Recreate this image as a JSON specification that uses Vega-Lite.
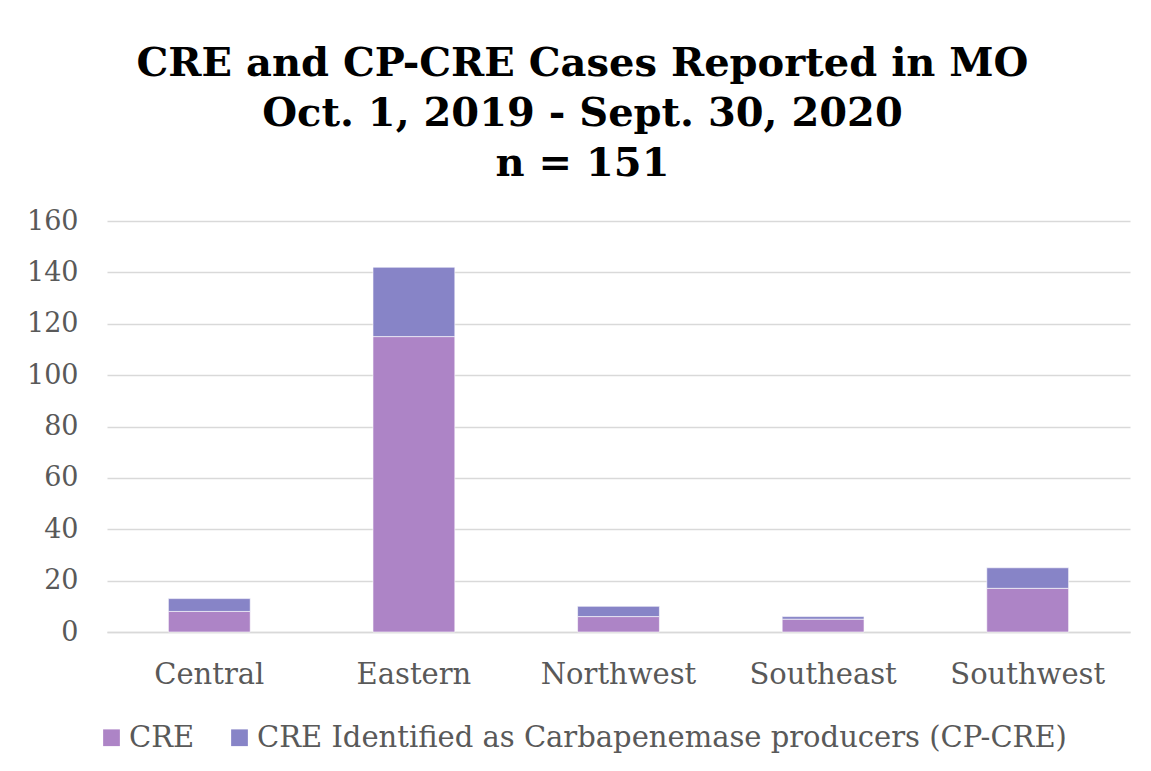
{
  "$schema": "https://vega.github.io/schema/vega-lite/v6.json",
  "width": 1023,
  "height": 411,
  "autosize": {"type": "none"},
  "padding": {"left": 107, "top": 221, "right": 21, "bottom": 139},
  "background": "white",
  "title": {
    "text": ["CRE and CP-CRE Cases Reported in MO", "Oct. 1, 2019 - Sept. 30, 2020", "n = 151"],
    "font": "DejaVu Serif",
    "fontWeight": "bold",
    "fontSize": 40,
    "lineHeight": 50,
    "color": "#000000",
    "anchor": "middle",
    "dx": -36,
    "offset": 23
  },
  "data": {
    "values": [
      {"region": "Central", "type": "CRE", "cases": 8},
      {"region": "Central", "type": "CRE Identified as Carbapenemase producers (CP-CRE)", "cases": 5},
      {"region": "Eastern", "type": "CRE", "cases": 115},
      {"region": "Eastern", "type": "CRE Identified as Carbapenemase producers (CP-CRE)", "cases": 27},
      {"region": "Northwest", "type": "CRE", "cases": 6},
      {"region": "Northwest", "type": "CRE Identified as Carbapenemase producers (CP-CRE)", "cases": 4},
      {"region": "Southeast", "type": "CRE", "cases": 5},
      {"region": "Southeast", "type": "CRE Identified as Carbapenemase producers (CP-CRE)", "cases": 1},
      {"region": "Southwest", "type": "CRE", "cases": 17},
      {"region": "Southwest", "type": "CRE Identified as Carbapenemase producers (CP-CRE)", "cases": 8}
    ]
  },
  "mark": {"type": "bar", "stroke": "#ffffff", "strokeOpacity": 0.6, "strokeWidth": 1},
  "encoding": {
    "x": {
      "field": "region",
      "type": "nominal",
      "sort": null,
      "scale": {"paddingInner": 0.6, "paddingOuter": 0.3},
      "axis": {
        "title": null,
        "labelAngle": 0,
        "ticks": false,
        "domain": true,
        "domainColor": "#d9d9d9",
        "domainWidth": 1.5,
        "labelPadding": 28,
        "labelFont": "DejaVu Serif",
        "labelFontSize": 29,
        "labelColor": "#595959"
      }
    },
    "y": {
      "field": "cases",
      "type": "quantitative",
      "stack": "zero",
      "scale": {"domain": [0, 160], "nice": false},
      "axis": {
        "title": null,
        "values": [0, 20, 40, 60, 80, 100, 120, 140, 160],
        "ticks": false,
        "domain": false,
        "grid": true,
        "gridColor": "#d9d9d9",
        "gridWidth": 1.5,
        "labelPadding": 29,
        "labelFont": "DejaVu Serif",
        "labelFontSize": 27,
        "labelColor": "#595959"
      }
    },
    "order": {"field": "type", "sort": "ascending"},
    "color": {
      "field": "type",
      "type": "nominal",
      "scale": {
        "domain": ["CRE", "CRE Identified as Carbapenemase producers (CP-CRE)"],
        "range": ["#ad84c6", "#8784c7"]
      },
      "legend": {
        "title": null,
        "orient": "none",
        "direction": "horizontal",
        "legendX": -10,
        "legendY": 502,
        "symbolType": "square",
        "symbolSize": 280,
        "symbolStrokeWidth": 0,
        "symbolOpacity": 1,
        "labelFont": "DejaVu Serif",
        "labelFontSize": 29,
        "labelColor": "#595959",
        "labelOffset": 3,
        "columnPadding": 30,
        "labelLimit": 1000,
        "padding": 0
      }
    }
  },
  "config": {"view": {"stroke": null}}
}
